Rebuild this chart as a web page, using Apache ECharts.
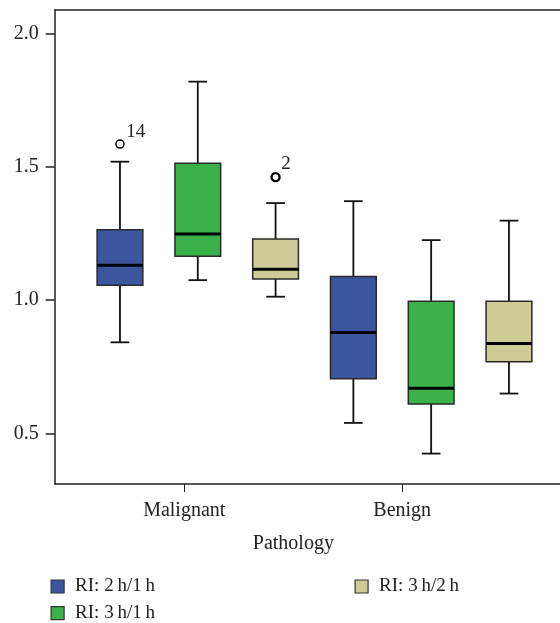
<!DOCTYPE html>
<html>
<head>
<meta charset="utf-8">
<script src="https://cdn.jsdelivr.net/npm/echarts@6/dist/echarts.min.js"></script>
<style>html,body{margin:0;padding:0;background:#fff;}#c{width:560px;height:623px;}</style>
</head>
<body>
<div id="c"></div>
<script>
// ---- data ----
const categories = ['Malignant', 'Benign'];
const seriesNames = ['RI: 2\u2009h/1\u2009h', 'RI: 3\u2009h/1\u2009h', 'RI: 3\u2009h/2\u2009h'];
// [min, Q1, median, Q3, max] per category
const ri2h1h = [[0.842, 1.056, 1.131, 1.264, 1.519], [0.540, 0.705, 0.879, 1.089, 1.371]];
const ri3h1h = [[1.075, 1.165, 1.248, 1.513, 1.819], [0.425, 0.611, 0.670, 0.996, 1.225]];
const ri3h2h = [[1.013, 1.079, 1.116, 1.229, 1.364], [0.650, 0.769, 0.838, 0.996, 1.298]];
const outlierValues = [1.585, 1.461];
const outlierLabels = ['14', '2'];
const outlierCategory = [0, 0];
const outlierSeries = [0, 2];
const yTicks = [0.5, 1.0, 1.5, 2.0];

const colors = ['#3c559f', '#3bb14a', '#cfcb98'];
const allSeries = [ri2h1h, ri3h1h, ri3h2h];
const FONT = '"Liberation Serif", "DejaVu Serif", serif';

// positions on x value axis: each category holds 3 slots
function slot(cat, s) { return cat * 3 + s + 1; }
const catTickPos = [1.826, 4.628];
const X_MIN = 0.161, X_MAX = 6.656;

function renderBox(params, api) {
  const x = api.value(0);
  const lo = api.coord([x, api.value(1)]);
  const q1 = api.coord([x, api.value(2)]);
  const med = api.coord([x, api.value(3)]);
  const q3 = api.coord([x, api.value(4)]);
  const hi = api.coord([x, api.value(5)]);
  const bw = api.size([0.588, 0])[0];
  const cw = api.size([0.24, 0])[0];
  const cx = med[0];
  const lineStyle = { stroke: '#111', lineWidth: 1.8 };
  return {
    type: 'group',
    children: [
      { type: 'line', shape: { x1: cx, y1: hi[1], x2: cx, y2: q3[1] }, style: lineStyle },
      { type: 'line', shape: { x1: cx, y1: q1[1], x2: cx, y2: lo[1] }, style: lineStyle },
      { type: 'line', shape: { x1: cx - cw / 2, y1: hi[1], x2: cx + cw / 2, y2: hi[1] }, style: lineStyle },
      { type: 'line', shape: { x1: cx - cw / 2, y1: lo[1], x2: cx + cw / 2, y2: lo[1] }, style: lineStyle },
      { type: 'rect', shape: { x: cx - bw / 2, y: q3[1], width: bw, height: q1[1] - q3[1] },
        style: { fill: api.visual('color'), stroke: '#2a2a2a', lineWidth: 1.5 } },
      { type: 'line', shape: { x1: cx - bw / 2, y1: med[1], x2: cx + bw / 2, y2: med[1] },
        style: { stroke: '#000', lineWidth: 3 } }
    ]
  };
}

const series = allSeries.map(function (arr, s) {
  return {
    name: seriesNames[s],
    type: 'custom',
    renderItem: renderBox,
    itemStyle: { color: colors[s] },
    encode: { x: 0, y: [1, 2, 3, 4, 5] },
    data: arr.map(function (v, c) { return [slot(c, s)].concat(v); }),
    z: 2
  };
});

series.push({
  type: 'scatter',
  name: 'outliers',
  symbol: 'circle',
  symbolSize: 8,
  z: 3,
  itemStyle: { color: '#fff', borderColor: '#000', borderWidth: 1.5, opacity: 1 },
  label: {
    show: true, formatter: '{b}', position: [11, -17],
    fontFamily: FONT, fontSize: 19, color: '#222', align: 'left', verticalAlign: 'top'
  },
  data: outlierValues.map(function (v, i) {
    return {
      name: outlierLabels[i],
      value: [slot(outlierCategory[i], outlierSeries[i]), v],
      itemStyle: { borderWidth: i === 1 ? 2.4 : 1.5 }
    };
  })
});

const legendCommon = {
  orient: 'vertical',
  top: 577,
  padding: 0,
  height: 60,
  itemWidth: 13,
  itemHeight: 13,
  itemGap: 7.7,
  icon: 'rect',
  itemStyle: { borderColor: '#333', borderWidth: 1.2 },
  textStyle: { fontFamily: FONT, fontSize: 19, lineHeight: 19, color: '#222', padding: [0, 0, 0, 6] }
};

const option = {
  animation: false,
  backgroundColor: '#fff',
  grid: { left: 54.7, right: 0, top: 10, bottom: 139, show: false },
  legend: [
    Object.assign({}, legendCommon, { left: 50.5, data: [seriesNames[0], seriesNames[1]] }),
    Object.assign({}, legendCommon, { left: 354.5, data: [seriesNames[2]] })
  ],
  xAxis: [{
    type: 'value',
    min: X_MIN,
    max: X_MAX,
    name: 'Pathology',
    nameLocation: 'middle',
    nameGap: 50,
    nameTextStyle: { fontFamily: FONT, fontSize: 20, color: '#222', verticalAlign: 'top', padding: [0, 28, 0, 0] },
    splitLine: { show: false },
    axisLine: { show: true, lineStyle: { color: '#222', width: 1.5 } },
    axisTick: { show: true, length: 8, lineStyle: { color: '#222', width: 1 }, customValues: catTickPos },
    axisLabel: {
      customValues: catTickPos,
      margin: 17,
      fontFamily: FONT, fontSize: 20, color: '#222',
      formatter: function (v) {
        let best = 0;
        catTickPos.forEach(function (p, i) { if (Math.abs(p - v) < Math.abs(catTickPos[best] - v)) best = i; });
        return categories[best];
      }
    }
  }, {
    type: 'value',
    position: 'top',
    min: X_MIN,
    max: X_MAX,
    splitLine: { show: false },
    axisLine: { show: true, lineStyle: { color: '#222', width: 1.5 } },
    axisTick: { show: false },
    axisLabel: { show: false }
  }],
  yAxis: {
    type: 'value',
    min: 0.311,
    max: 2.0875,
    splitLine: { show: false },
    axisLine: { show: true, lineStyle: { color: '#222', width: 1.5 } },
    axisTick: { show: true, length: 9, lineStyle: { color: '#222', width: 1.5 }, customValues: yTicks },
    axisLabel: {
      customValues: yTicks,
      margin: 16,
      fontFamily: FONT, fontSize: 20, color: '#222',
      formatter: function (v) { return v.toFixed(1); }
    }
  },
  series: series
};

const chart = echarts.init(document.getElementById('c'), null, { renderer: 'canvas' });
chart.setOption(option);
</script>
</body>
</html>
